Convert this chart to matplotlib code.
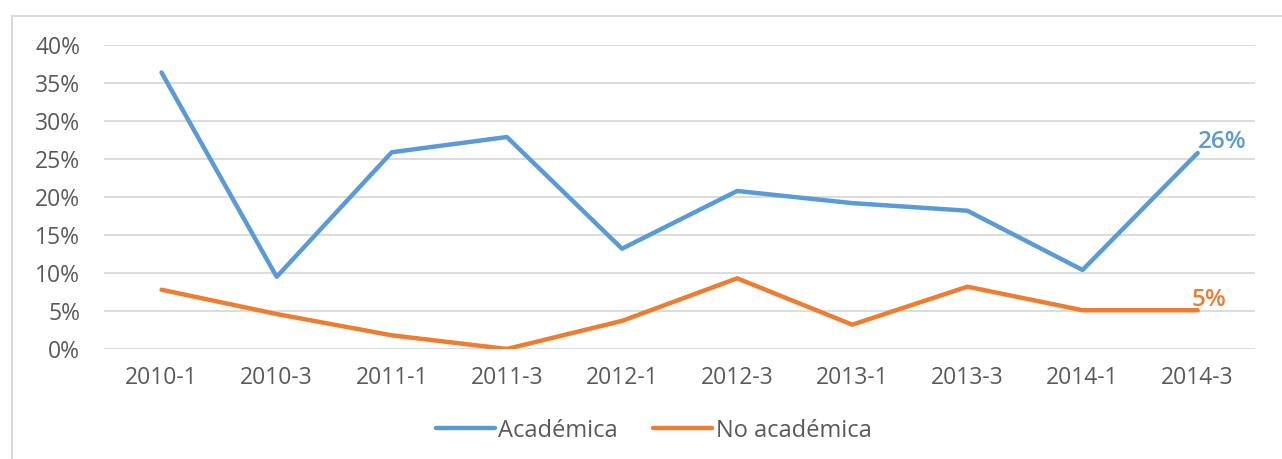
import matplotlib.pyplot as plt
from matplotlib.lines import Line2D
from matplotlib.ticker import PercentFormatter

# Data
periods = ['2010-1', '2010-3', '2011-1', '2011-3', '2012-1',
           '2012-3', '2013-1', '2013-3', '2014-1', '2014-3']
academica = [36.4, 9.5, 25.9, 27.9, 13.2, 20.8, 19.2, 18.2, 10.4, 25.8]
no_academica = [7.8, 4.6, 1.8, 0.0, 3.7, 9.3, 3.2, 8.2, 5.1, 5.1]
end_labels = ['26%', '5%']

blue = '#5B9BD5'
orange = '#ED7D31'
text_col = '#595959'
grid_col = '#D9D9D9'

plt.rcParams['font.family'] = ['Open Sans', 'DejaVu Sans']

fig = plt.figure(figsize=(12.82, 4.59), dpi=100)
ax = fig.add_axes([0.0811, 0.2397, 0.898, 0.662])

x = list(range(len(periods)))
ax.plot(x, academica, color=blue, lw=3.2, solid_capstyle='round', label='Académica')
ax.plot(x, no_academica, color=orange, lw=3.2, solid_capstyle='round', label='No académica')

# labels on the last point
ax.annotate(end_labels[0], (x[-1], academica[-1]), xytext=(0, -1), textcoords='offset points',
            ha='left', va='bottom', color=blue, fontsize=17.5, fontweight='semibold')
ax.annotate(end_labels[1], (x[-1], no_academica[-1]), xytext=(-4, -1), textcoords='offset points',
            ha='left', va='bottom', color=orange, fontsize=17.5, fontweight='semibold')

ax.set_xlim(-0.5, len(periods) - 0.5)
ax.set_ylim(0, 40)
ax.set_yticks(range(0, 41, 5))
ax.yaxis.set_major_formatter(PercentFormatter(decimals=0))
ax.set_xticks(x)
ax.set_xticklabels(periods)
ax.tick_params(axis='both', length=0, colors=text_col, labelsize=16.5)
ax.tick_params(axis='y', pad=17)
ax.tick_params(axis='x', pad=12)
ax.grid(axis='y', color=grid_col, lw=1.3)
ax.set_axisbelow(True)
for s in ax.spines.values():
    s.set_visible(False)

fig.legend(loc='center', bbox_to_anchor=(0.51, 0.062), ncol=2, frameon=False,
           fontsize=17, labelcolor=text_col, handlelength=2.5, handletextpad=0.15,
           columnspacing=1.5)

# outer chart border (top and left only visible)
fig.add_artist(Line2D([0.0094, 1.0], [0.965, 0.965], color='#D9D9D9', lw=1.5))
fig.add_artist(Line2D([0.0094, 0.0094], [0.0, 0.965], color='#D9D9D9', lw=1.5))

fig.savefig('out.png', dpi=100)
